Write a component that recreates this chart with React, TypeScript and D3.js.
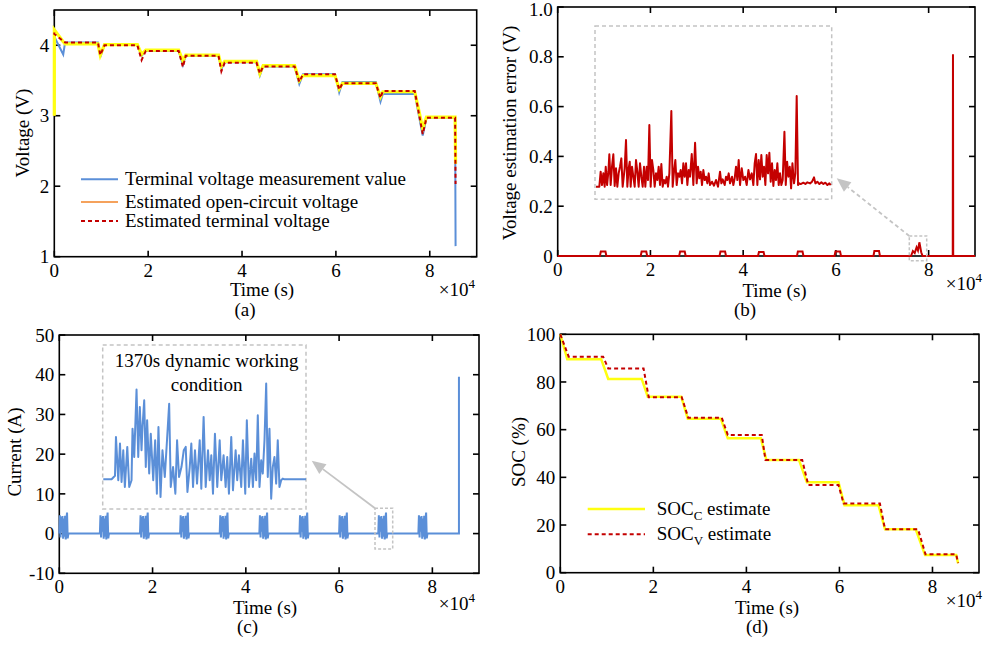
import React from "react";
import * as d3 from "d3";

const FONT = "'Liberation Serif', 'Times New Roman', serif";
const FS = 19;

// ---------------- (a) voltage ----------------
const timeA = [0, 10, 1900, 2300, 9300, 9800, 10700, 17700, 18600, 19500, 26500, 27400, 28000, 35000, 35600, 36300, 43100, 43800, 44500, 51200, 52200, 53000, 59800, 60700, 61400, 68500, 69500, 70000, 76800, 78500, 79300, 85400, 85500];
const voltMeasured = [4.12, 4.12, 3.87, 4.04, 4.04, 3.83, 4.01, 4.01, 3.85, 3.92, 3.92, 3.72, 3.85, 3.85, 3.66, 3.76, 3.76, 3.57, 3.70, 3.70, 3.45, 3.59, 3.59, 3.33, 3.48, 3.48, 3.20, 3.31, 3.31, 2.72, 2.97, 2.97, 1.15];
const voltOCV = [3.0, 4.22, 4.05, 4.02, 4.02, 3.86, 4.01, 4.01, 3.87, 3.93, 3.93, 3.78, 3.86, 3.86, 3.70, 3.77, 3.77, 3.60, 3.71, 3.71, 3.50, 3.57, 3.57, 3.38, 3.46, 3.46, 3.27, 3.34, 3.34, 2.82, 2.98, 2.98, 2.32];
const voltTerminalEst = [4.18, 4.16, 4.06, 4.04, 4.04, 3.86, 4.00, 4.00, 3.79, 3.92, 3.92, 3.69, 3.85, 3.85, 3.63, 3.75, 3.75, 3.60, 3.70, 3.70, 3.48, 3.59, 3.59, 3.37, 3.46, 3.46, 3.25, 3.35, 3.35, 2.74, 2.97, 2.97, 2.03];
const legendA = ["Terminal voltage measurement value", "Estimated open-circuit voltage", "Estimated terminal voltage"];

// ---------------- (b) voltage error ----------------
const errTime = [0, 9100, 9300, 10300, 10500, 17900, 18100, 19100, 19300, 26200, 26400, 27400, 27600, 34900, 35100, 36100, 36300, 43200, 43400, 44400, 44600, 51600, 51800, 52800, 53000, 59700, 59900, 60900, 61100, 68100, 68300, 69300, 69500, 76200, 76600, 77000, 77400, 77700, 78000, 78400, 78700, 85200, 85250, 85300, 90000];
const errValue = [0, 0, 0.018, 0.018, 0, 0, 0.018, 0.018, 0, 0, 0.018, 0.018, 0, 0, 0.018, 0.018, 0, 0, 0.016, 0.016, 0, 0, 0.018, 0.018, 0, 0, 0.018, 0.018, 0, 0, 0.02, 0.02, 0, 0, 0.02, 0.012, 0.035, 0.022, 0.055, 0.015, 0, 0, 0.81, 0, 0];
const insetBTime = [0, 25, 35, 45, 55, 65, 73, 83, 93, 100, 110, 120, 130, 140, 150, 160, 170, 180, 190, 200, 215, 225, 235, 245, 253, 260, 270, 280, 290, 300, 310, 320, 330, 340, 350, 360, 370, 380, 390, 400, 410, 420, 430, 440, 450, 460, 470, 480, 490, 500, 510, 520, 530, 540, 550, 565, 575, 585, 595, 605, 615, 625, 635, 645, 655, 665, 675, 685, 695, 705, 718, 730, 743, 755, 765, 775, 785, 795, 805, 815, 825, 835, 845, 855, 870, 885, 900, 915, 930, 940, 950, 965, 975, 985, 995, 1005, 1020, 1030, 1040, 1050, 1060, 1070, 1080, 1093, 1105, 1118, 1130, 1143, 1155, 1168, 1180, 1190, 1200, 1210, 1220, 1230, 1240, 1250, 1260, 1270, 1280, 1290, 1300, 1310, 1320, 1330, 1340, 1350, 1360, 1370, 1380, 1390, 1400, 1413, 1423, 1433, 1443, 1453, 1463, 1473, 1485, 1495, 1505, 1515, 1525, 1535, 1555, 1570, 1585, 1605, 1620, 1635, 1645, 1660, 1675, 1690, 1705, 1720, 1735, 1750, 1760];
const insetBError = [0, 0, 9, 1, 8, 0, 12, 1, 9, 19.4, 1, 12, 19.4, 0.4, 11, 0, 8, 12, 17, 0, 11, 28, 0, 11, 15, 0, 12, 6, 0, 16, 9, 0, 14, 6, 0, 12, 0, 12, 4, 37, 0, 16, 10, 0, 8, 4, 12, 1, 13.6, 0, 4, 2, 6, 0, 8, 45.4, 0, 9, 16, 1, 8, 6, 10, 2, 14, 6, 14, 1, 10, 6, 19.6, 1, 26.4, 2, 12, 5, 9, 1, 10, 4, 6, 2, 8, 1, 3, 0.6, 4, 0, 9, 2, 4.4, 1, 6, 4, 8, 2, 6, 1, 5, 12, 4, 16, 1, 11, 4, 6, 1, 10, 4.4, 8, 1, 14, 19.6, 1, 16, 4.4, 19, 6, 12, 1, 19, 8, 20.4, 3, 14, 0.4, 10, 4, 14, 1, 8, 1, 4, 33, 1, 15, 6, 12, -1, 14, 2, 8, 54.4, 1, 2, 1.6, 2.4, 1.6, 2.6, 2, 3, 5.6, 2, 3, 1.6, 2.6, 1.6, 2.4, 1, 2, 1];

// ---------------- (c) current ----------------
const pulseStarts = [0, 8700, 17300, 25900, 34400, 42900, 51500, 60000, 68400, 77000];
const pulseOffsets = [0, 120, 260, 400, 540, 680, 820, 960, 1100, 1240, 1380, 1520, 1660, 1800, 1950];
const pulseCurrent = [0, 4.6, -1.0, 4.2, 0.5, 4.4, -1.3, 3.8, -0.8, 4.5, -1.5, 3.6, 5.3, -1.2, 0];
const finalPulseTime = 85700;
const finalPulseCurrent = 39.5;
const insetCTime = [0, 68, 96, 104, 123, 137, 150, 164, 177, 197, 213, 232, 240, 254, 273, 287, 300, 314, 322, 336, 349, 360, 377, 390, 410, 426, 440, 453, 470, 486, 505, 524, 541, 554, 573, 592, 606, 622, 642, 661, 677, 691, 710, 723, 737, 753, 770, 792, 805, 824, 841, 860, 874, 887, 901, 917, 936, 956, 969, 988, 1005, 1018, 1032, 1051, 1065, 1087, 1100, 1114, 1133, 1147, 1166, 1179, 1196, 1215, 1229, 1242, 1256, 1269, 1283, 1297, 1310, 1324, 1338, 1351, 1365, 1379, 1392, 1406, 1420, 1433, 1447, 1461, 1474, 1488, 1665];
const insetCCurrent = [0, 0, 1.5, 17.6, -0.4, 14.9, -1.1, 12.1, -3.2, 13.5, -3.2, -0.4, 21.1, 9.3, 37.4, 9.3, 30.1, 12.1, 21.8, 32.9, 5.1, 24.6, 2.4, 19.0, -0.4, 16.3, -6.0, 21.8, -7.4, 12.1, 1.0, 16.9, 31.5, -3.2, 5.1, -6.0, 16.3, 1.0, 5.1, 12.1, 13.5, -5.3, 5.1, 14.9, -3.2, 12.1, -1.8, 16.3, -3.9, 26.0, -3.2, 12.1, -0.4, 10.0, -6.0, 19.0, -3.2, 16.3, -0.4, 10.0, -3.2, 9.3, -6.0, 17.6, -4.6, 12.1, -0.4, 10.0, -3.2, 16.3, -6.0, 24.6, -3.2, 8.6, -3.2, 10.7, -0.4, 26.7, -3.2, 7.9, 2.4, 16.3, 39.9, 1.0, 21.1, -8.1, 5.1, 9.3, -1.8, 16.3, -3.2, -0.4, 0.3, 0, 0];
const insetCLines = ["1370s dynamic working", "condition"];

// ---------------- (d) SOC ----------------
const socCTime = [0, 1500, 8800, 10300, 17500, 18800, 26000, 27400, 34500, 36000, 43100, 44300, 51300, 53000, 59800, 61100, 68400, 69800, 76400, 78400, 85100, 85500];
const socCValue = [100, 89.5, 89.5, 81.3, 81.3, 73.8, 73.8, 64.6, 64.6, 56.4, 56.4, 47.3, 47.3, 37.9, 37.9, 28.3, 28.3, 18.2, 18.2, 7.4, 7.4, 4];
const socVTime = [0, 1800, 9200, 10300, 17900, 19000, 26100, 27500, 34700, 36000, 43300, 44100, 52000, 53300, 59800, 60900, 68700, 69800, 76900, 78500, 85100, 85500];
const socVValue = [100, 90.6, 90.6, 85.7, 85.7, 73.6, 73.6, 65, 65, 57.8, 57.8, 47.3, 47.3, 36.8, 36.8, 29, 29, 18.2, 18.2, 7.7, 7.7, 4];

const timeTicks = [0, 20000, 40000, 60000, 80000];

// ---------------- styles ----------------
const BLUE = "#5b8fd8";
const ORANGE = "#f5a25c";
const YELLOW = "#ffff10";
const RED = "#c40000";
const GREY = "#c4c4c4";

type S = d3.ScaleLinear<number, number>;
const zip = (a: number[], b: number[]) => a.map((v, i) => [v, b[i]] as [number, number]);
const path = (sx: S, sy: S, pts: [number, number][]) =>
  d3.line<[number, number]>().x((d) => sx(d[0])).y((d) => sy(d[1]))(pts) || "";

function Frame({ x, y, yTicks, yFmt }: { x: S; y: S; yTicks: number[]; yFmt: (v: number) => string }) {
  const [x0, x1] = x.range();
  const [y0, y1] = y.range();
  const T = 6;
  return (
    <g>
      <rect x={x0} y={y1} width={x1 - x0} height={y0 - y1} fill="none" stroke="#000" strokeWidth={1.6} />
      {timeTicks.map((t) => (
        <g key={"x" + t}>
          <line x1={x(t)} x2={x(t)} y1={y0} y2={y0 - T} stroke="#000" strokeWidth={1.6} />
          <line x1={x(t)} x2={x(t)} y1={y1} y2={y1 + T} stroke="#000" strokeWidth={1.6} />
          <text x={x(t)} y={y0 + 20} textAnchor="middle">{t / 1e4}</text>
        </g>
      ))}
      {yTicks.map((v) => (
        <g key={"y" + v}>
          <line x1={x0} x2={x0 + T} y1={y(v)} y2={y(v)} stroke="#000" strokeWidth={1.6} />
          <line x1={x1} x2={x1 - T} y1={y(v)} y2={y(v)} stroke="#000" strokeWidth={1.6} />
          <text x={x0 - 5} y={Math.max(y(v), 9)} dy="0.35em" textAnchor="end">{yFmt(v)}</text>
        </g>
      ))}
    </g>
  );
}

function Arrow({ sx, sy, ex, ey, dashed }: { sx: number; sy: number; ex: number; ey: number; dashed?: boolean }) {
  const dx = ex - sx, dy = ey - sy;
  const len = Math.hypot(dx, dy);
  const ux = dx / len, uy = dy / len;
  const L = 14, W = 6;
  const bx = ex - ux * L, by = ey - uy * L;
  const nx = -uy, ny = ux;
  return (
    <g>
      <line x1={sx} y1={sy} x2={bx} y2={by} stroke={GREY} strokeWidth={1.8} strokeDasharray={dashed ? "4,3" : undefined} />
      <polygon points={`${ex},${ey} ${bx + nx * W},${by + ny * W} ${bx - nx * W},${by - ny * W}`} fill={GREY} />
    </g>
  );
}

function XLabels({ cx, by, ex, ey, px, py, tag }: { cx: number; by: number; ex: number; ey: number; px: number; py: number; tag: string }) {
  return (
    <g>
      <text x={cx} y={by} textAnchor="middle">Time (s)</text>
      <text x={ex} y={ey} textAnchor="end">×10<tspan dy={-8} fontSize={13}>4</tspan></text>
      <text x={px} y={py} textAnchor="middle">{tag}</text>
    </g>
  );
}

function YLabel({ x, y, text }: { x: number; y: number; text: string }) {
  return (
    <text transform={`translate(${x},${y}) rotate(-90)`} textAnchor="middle">{text}</text>
  );
}

export default function App() {
  // (a)
  const xa = d3.scaleLinear().domain([0, 90000]).range([54.3, 476.7]);
  const ya = d3.scaleLinear().domain([1, 4.5]).range([256.7, 10]);
  // (b)
  const xb = d3.scaleLinear().domain([0, 90000]).range([557.7, 975]);
  const yb = d3.scaleLinear().domain([0, 1]).range([256, 7]);
  const xbi = d3.scaleLinear().domain([0, 1760]).range([596, 830.7]);
  const ybi = d3.scaleLinear().domain([0, 60]).range([186.7, 86.7]);
  // (c)
  const xc = d3.scaleLinear().domain([0, 90000]).range([59.3, 479]);
  const yc = d3.scaleLinear().domain([-10, 50]).range([573.3, 335]);
  const xci = d3.scaleLinear().domain([0, 1665]).range([103.3, 306]);
  const yci = d3.scaleLinear().domain([-10, 40]).range([503.3, 383.3]);
  // (d)
  const xd = d3.scaleLinear().domain([0, 90000]).range([560.3, 979]);
  const yd = d3.scaleLinear().domain([0, 100]).range([572.7, 334.3]);

  const currentSeries: [number, number][] = [];
  pulseStarts.forEach((s) => pulseOffsets.forEach((o, i) => currentSeries.push([s + o, pulseCurrent[i]])));
  currentSeries.push([finalPulseTime, 0], [finalPulseTime, finalPulseCurrent]);

  const legendAStyles = [
    { color: BLUE, dash: undefined as string | undefined },
    { color: ORANGE, dash: undefined },
    { color: RED, dash: "4,3" },
  ];
  const legendAY = [179.3, 202, 221];

  return (
    <svg
      width={985}
      height={646}
      style={{ position: "absolute", left: 0, top: 0, background: "#fff" }}
      fontFamily={FONT}
      fontSize={FS}
      fill="#000"
    >
      <rect x={0} y={0} width={985} height={646} fill="#fff" />

      {/* ---------- (a) ---------- */}
      <Frame x={xa} y={ya} yTicks={[1, 2, 3, 4]} yFmt={(v) => String(v)} />
      <path d={path(xa, ya, zip(timeA, voltMeasured))} fill="none" stroke={BLUE} strokeWidth={2} />
      <path d={path(xa, ya, zip(timeA, voltOCV))} fill="none" stroke={ORANGE} strokeWidth={1.5} />
      <path d={path(xa, ya, zip(timeA, voltOCV))} fill="none" stroke={YELLOW} strokeWidth={3.2} />
      <path d={path(xa, ya, zip(timeA, voltTerminalEst))} fill="none" stroke={RED} strokeWidth={2} strokeDasharray="4,3" />
      {legendA.map((l, i) => (
        <g key={l}>
          <line x1={81} x2={118} y1={legendAY[i]} y2={legendAY[i]} stroke={legendAStyles[i].color} strokeWidth={2} strokeDasharray={legendAStyles[i].dash} />
          <text x={125} y={legendAY[i] + 6}>{l}</text>
        </g>
      ))}
      <YLabel x={29} y={133} text="Voltage (V)" />
      <XLabels cx={262} by={296} ex={475} ey={296} px={245} py={316} tag="(a)" />

      {/* ---------- (b) ---------- */}
      <Frame x={xb} y={yb} yTicks={[0, 0.2, 0.4, 0.6, 0.8, 1.0]} yFmt={(v) => (v === 0 ? "0" : v.toFixed(1))} />
      <path d={path(xb, yb, zip(errTime, errValue))} fill="none" stroke={RED} strokeWidth={2} />
      <rect x={595} y={26} width={236.7} height={173.3} fill="none" stroke={GREY} strokeWidth={1.5} strokeDasharray="4,3" />
      <path d={path(xbi, ybi, zip(insetBTime, insetBError))} fill="none" stroke={RED} strokeWidth={2} strokeLinejoin="round" />
      <rect x={909.3} y={236} width={17.4} height={24.7} fill="none" stroke={GREY} strokeWidth={1.5} strokeDasharray="3,2" />
      <Arrow sx={909.3} sy={236} ex={836.7} ey={178.3} dashed />
      <YLabel x={516} y={133} text="Voltage estimation error (V)" />
      <XLabels cx={774.5} by={297} ex={982} ey={290} px={745} py={316} tag="(b)" />

      {/* ---------- (c) ---------- */}
      <Frame x={xc} y={yc} yTicks={[-10, 0, 10, 20, 30, 40, 50]} yFmt={(v) => String(v)} />
      <path d={path(xc, yc, currentSeries)} fill="none" stroke={BLUE} strokeWidth={2} />
      <rect x={102.7} y={345} width={203.3} height={164} fill="none" stroke={GREY} strokeWidth={1.5} strokeDasharray="4,3" />
      <path d={path(xci, yci, zip(insetCTime, insetCCurrent))} fill="none" stroke={BLUE} strokeWidth={2} strokeLinejoin="round" />
      {insetCLines.map((l, i) => (
        <text key={l} x={206.7} y={367 + i * 24} textAnchor="middle">{l}</text>
      ))}
      <rect x={375} y={508.3} width={17.7} height={40.7} fill="none" stroke={GREY} strokeWidth={1.5} strokeDasharray="3,2" />
      <Arrow sx={375} sy={508.3} ex={311.7} ey={460.7} />
      <YLabel x={21} y={452} text="Current (A)" />
      <XLabels cx={265} by={614} ex={475} ey={610} px={247.5} py={633} tag="(c)" />

      {/* ---------- (d) ---------- */}
      <Frame x={xd} y={yd} yTicks={[0, 20, 40, 60, 80, 100]} yFmt={(v) => String(v)} />
      <path d={path(xd, yd, zip(socCTime, socCValue))} fill="none" stroke={YELLOW} strokeWidth={2.5} />
      <path d={path(xd, yd, zip(socVTime, socVValue))} fill="none" stroke={RED} strokeWidth={2} strokeDasharray="4,3" />
      <line x1={587.7} x2={645} y1={509} y2={509} stroke={YELLOW} strokeWidth={2.5} />
      <text x={656.7} y={515}>SOC<tspan fontSize={13} dy={5}>C</tspan><tspan dy={-5}> estimate</tspan></text>
      <line x1={587.7} x2={645} y1={534.3} y2={534.3} stroke={RED} strokeWidth={2} strokeDasharray="4,3" />
      <text x={656.7} y={540.3}>SOC<tspan fontSize={13} dy={5}>V</tspan><tspan dy={-5}> estimate</tspan></text>
      <YLabel x={525} y={452} text="SOC (%)" />
      <XLabels cx={767} by={614} ex={982} ey={607} px={757} py={633} tag="(d)" />
    </svg>
  );
}
